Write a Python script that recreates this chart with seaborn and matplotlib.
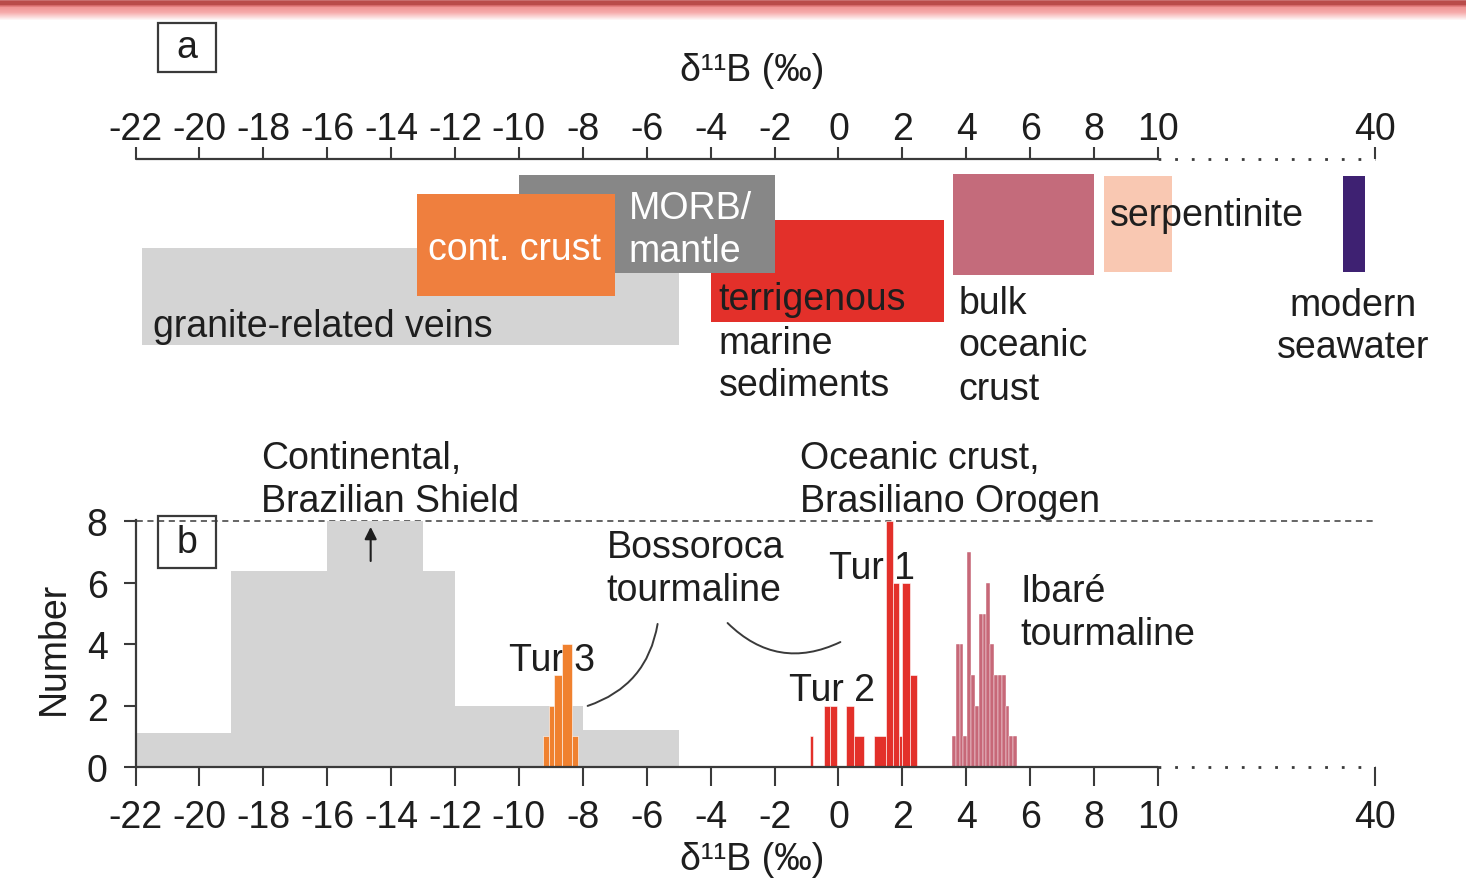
import numpy as np
import matplotlib
matplotlib.use("Agg")
import matplotlib.pyplot as plt
from matplotlib.patches import Rectangle
import seaborn as sns

# ---- data -----------------------------------------------------------------
# panel a: d11B ranges of the reservoirs
sources = ["granite-related veins", "terrigenous marine sediments", "MORB/mantle",
           "cont. crust", "bulk oceanic crust", "serpentinite", "modern seawater"]
d_min = [-21.8, -4.0, -10.0, -13.2, 3.6, 8.3, 35.6]
d_max = [-5.0, 3.3, -2.0, -7.0, 8.0, 12.0, 38.6]

# panel b: histograms (bin edges + counts)
cont_edges = [-22, -19, -16, -13, -12, -8, -5]
cont_counts = [1.1, 6.4, 8.0, 6.4, 2.0, 1.2]

tur3_edges = [-9.25, -9.05, -8.9, -8.65, -8.35, -8.15]
tur3_counts = [1, 2, 3, 4, 1]

tur12_edges = [-0.9, -0.8, -0.45, -0.25, -0.05, 0.25, 0.5, 0.8, 1.1, 1.5,
               1.7, 1.9, 2.0, 2.25, 2.45]
tur12_counts = [1, 0, 2, 2, 0, 2, 1, 0, 1, 8, 6, 1, 6, 3]

ibare_edges = [3.55, 3.67, 3.79, 3.91, 4.03, 4.15, 4.27, 4.39, 4.51, 4.63,
               4.75, 4.87, 4.99, 5.11, 5.23, 5.35, 5.47, 5.59]
ibare_counts = [1, 4, 4, 1, 7, 3, 2, 5, 5, 6, 4, 3, 3, 3, 2, 1, 1]

tick_vals = [-22, -20, -18, -16, -14, -12, -10, -8, -6, -4, -2, 0, 2, 4, 6, 8, 10, 40]
y_ticks = [0, 2, 4, 6, 8]

# ---- style ----------------------------------------------------------------
sns.set_theme(style="white")
plt.rcParams["font.family"] = ["Liberation Sans", "DejaVu Sans"]
FS = 27
INK = "#1e1e1e"
AX = "#3a3a3a"
box_colors = ["#d4d4d4", "#e3302a", "#878787", "#ef7f3e", "#c46b7b", "#f9c8b2", "#3e2172"]

# broken axis: linear up to 10, compressed between 10 and 40
K = 0.2264


def fwd(x):
    x = np.asarray(x, dtype=float)
    return np.where(x <= 10, x, 10 + (x - 10) * K)


def inv(x):
    x = np.asarray(x, dtype=float)
    return np.where(x <= 10, x, 10 + (x - 10) / K)


W_PX, H_PX = 1466, 879
fig = plt.figure(figsize=(W_PX / 100, H_PX / 100), dpi=100)

L = 135.5 / W_PX
W = (1375 - 135.5) / W_PX

# red band on top
band_y = [0, 1, 2, 5, 6, 8, 13, 21, 22]
band_r = [232, 200, 185, 185, 212, 240, 246, 255, 255]
band_g = [200, 110, 76, 76, 105, 150, 172, 255, 255]
band_b = [200, 110, 74, 74, 105, 150, 172, 255, 255]
rows = np.arange(22)
band = np.stack([np.interp(rows, band_y, band_r), np.interp(rows, band_y, band_g),
                 np.interp(rows, band_y, band_b)], axis=-1)[:, None, :] / 255
ax_band = fig.add_axes([0, 1 - 22 / H_PX, 1, 22 / H_PX])
ax_band.imshow(np.repeat(band, 10, axis=1), aspect="auto")
ax_band.axis("off")

# ---- panel a ----------------------------------------------------------------
ax_a = fig.add_axes([L, 1 - 420 / H_PX, W, 260 / H_PX])
# vertical placement of each box (pixels below the axis line)
box_top = [89, 61, 16, 35, 15, 17, 17]
box_bot = [186, 163, 114, 137, 116, 113, 113]
for i, name in enumerate(sources):
    ax_a.barh(y=(box_top[i] + box_bot[i]) / 2, width=d_max[i] - d_min[i], left=d_min[i],
              height=box_bot[i] - box_top[i], color=box_colors[i], linewidth=0, zorder=1 + i)
ax_a.set_xscale("function", functions=(fwd, inv))
ax_a.set_xlim(-22, 40)
ax_a.set_ylim(260, 0)
ax_a.xaxis.set_ticks_position("top")
ax_a.set_xticks(tick_vals)
ax_a.set_xticklabels([str(v) for v in tick_vals])
ax_a.set_yticks([])
ax_a.tick_params(axis="x", direction="out", length=9, width=1.5, color=AX,
                 labelsize=FS, labelcolor=INK, pad=0, top=True, bottom=False,
                 labeltop=True, labelbottom=False)
for s in ax_a.spines.values():
    s.set_visible(False)
ax_a.plot([-22, 10], [0, 0], color=AX, lw=1.6, clip_on=False, zorder=10)
ax_a.plot([10, 40], [0, 0], color=AX, lw=2, ls=(0, (1, 5)), clip_on=False, zorder=10)

txt = dict(fontsize=FS, color=INK, va="center", linespacing=1.25)
ax_a.text(-21.46, 167, "granite-related veins", ha="left", zorder=20, **txt)
ax_a.text(-12.86, 90, "cont. crust", ha="left", zorder=20, **{**txt, "color": "white"})
ax_a.text(-6.57, 70.5, "MORB/\nmantle", ha="left", zorder=20, **{**txt, "color": "white"})
ax_a.text(-3.75, 183.5, "terrigenous\nmarine\nsediments", ha="left", zorder=20, **txt)
ax_a.text(3.75, 186.5, "bulk\noceanic\ncrust", ha="left", zorder=20, **txt)
ax_a.text(8.51, 56, "serpentinite", ha="left", zorder=20, **txt)
ax_a.text(36.96, 167, "modern\nseawater", ha="center", zorder=20, **txt)

# ---- panel b ----------------------------------------------------------------
ax_b = fig.add_axes([L, 1 - 768 / H_PX, W, 8.05 * 30.7 / H_PX])


def hist(edges, counts, color, z, lw):
    centers = [(a + b) / 2 for a, b in zip(edges[:-1], edges[1:])]
    sns.histplot(x=centers, weights=counts, bins=edges, ax=ax_b, color=color, alpha=1,
                 edgecolor="white", linewidth=lw, zorder=z)


hist(cont_edges, cont_counts, "#d4d4d4", 1, 0)
hist(tur3_edges, tur3_counts, "#f0812f", 4, 0.4)
hist(tur12_edges, tur12_counts, "#e3302a", 4, 0.4)
hist(ibare_edges, ibare_counts, "#c76878", 4, 0.3)

ax_b.set_xscale("function", functions=(fwd, inv))
ax_b.set_xlim(-22, 40)
ax_b.set_ylim(0, 8.05)
ax_b.set_xticks(tick_vals)
ax_b.set_xticklabels([str(v) for v in tick_vals])
ax_b.set_yticks(y_ticks)
ax_b.set_xlabel("")
ax_b.set_ylabel("")
ax_b.tick_params(axis="both", direction="out", width=1.5, color=AX, labelsize=FS,
                 labelcolor=INK, bottom=True, left=True)
ax_b.tick_params(axis="x", length=14, pad=9)
ax_b.tick_params(axis="y", length=9, pad=11)
for s in ["top", "right", "bottom"]:
    ax_b.spines[s].set_visible(False)
ax_b.spines["left"].set_color(AX)
ax_b.spines["left"].set_linewidth(1.6)
ax_b.plot([-22, 10], [0, 0], color=AX, lw=1.6, clip_on=False, zorder=10)
ax_b.plot([10, 40], [0, 0], color=AX, lw=2, ls=(0, (1, 5)), clip_on=False, zorder=10)
ax_b.plot([-22.3, 40], [8, 8], color=AX, lw=1.1, ls=(0, (4, 3)), clip_on=False, zorder=0)

ax_b.text(-18.08, 9.38, "Continental,\nBrazilian Shield", ha="left", zorder=2, **txt)
ax_b.text(-1.19, 9.38, "Oceanic crust,\nBrasiliano Orogen", ha="left", zorder=2, **txt)
ax_b.text(-7.26, 6.46, "Bossoroca\ntourmaline", ha="left", zorder=2, **txt)
ax_b.text(-10.32, 3.48, "Tur 3", ha="left", zorder=2, **txt)
ax_b.text(-0.31, 6.48, "Tur 1", ha="left", zorder=2, **txt)
ax_b.text(-1.56, 2.51, "Tur 2", ha="left", zorder=2, **txt)
ax_b.text(5.69, 5.03, "Ibaré\ntourmaline", ha="left", zorder=2, **txt)

ax_b.annotate("", xy=(-14.64, 7.82), xytext=(-14.64, 6.71),
              arrowprops=dict(arrowstyle="-|>", color=INK, lw=1.5, mutation_scale=18,
                              shrinkA=0, shrinkB=0), zorder=6)
ax_b.annotate("", xy=(-7.85, 1.99), xytext=(-5.66, 4.66),
              arrowprops=dict(arrowstyle="-", color=AX, lw=1.4, shrinkA=0, shrinkB=0,
                              connectionstyle="arc3,rad=-0.3"))
ax_b.annotate("", xy=(0.06, 4.07), xytext=(-3.47, 4.69),
              arrowprops=dict(arrowstyle="-", color=AX, lw=1.4, shrinkA=0, shrinkB=0,
                              connectionstyle="arc3,rad=0.35"))

# axis titles
fig.text(752 / W_PX, 1 - 81 / H_PX, "δ¹¹B (‰)", ha="center", va="baseline",
         fontsize=FS, color=INK)
fig.text(752 / W_PX, 1 - 870 / H_PX, "δ¹¹B (‰)", ha="center", va="baseline",
         fontsize=FS, color=INK)
fig.text(54 / W_PX, 1 - 648 / H_PX, "Number", ha="center", va="center", rotation=90,
         fontsize=FS, color=INK)

# panel letters
for letter, top, bot in [("a", 24, 73), ("b", 517, 569)]:
    fig.patches.append(Rectangle((158 / W_PX, 1 - bot / H_PX), 58 / W_PX, (bot - top) / H_PX,
                                 transform=fig.transFigure, fill=False, ec=AX, lw=1.6))
    fig.text(187 / W_PX, 1 - (top + bot) / 2 / H_PX, letter, ha="center", va="center",
             fontsize=FS, color=INK)

fig.savefig("out.png", dpi=100)
